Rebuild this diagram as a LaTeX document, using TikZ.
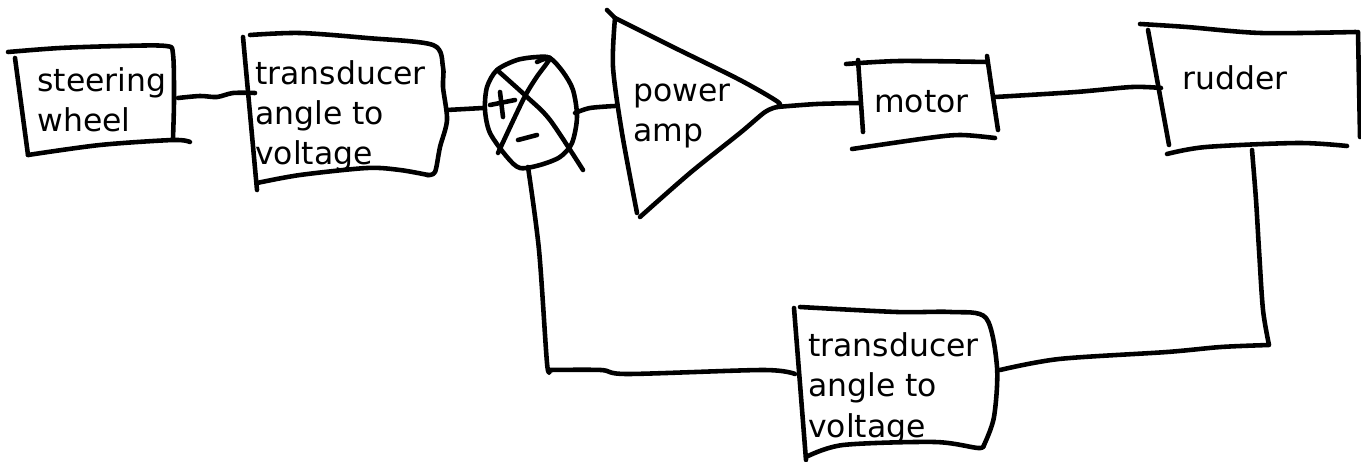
\documentclass[tikz,border=0pt]{standalone}
\usepackage{fontspec}
\setmainfont{DejaVu Sans}
\usetikzlibrary{positioning}

\begin{document}
\begin{tikzpicture}[x=0.02cm, y=-0.02cm,
    ink/.style={line width=2.6pt, line cap=round, line join=round},
    lbl/.style={font=\fontsize{17.9}{22.8}\selectfont, align=left, inner sep=0pt, anchor=base west}]
    \useasboundingbox (0,0) rectangle (1361,462);
    % Labels (anchored at the baseline of the last line)
    \node[lbl] (sw) at (37,132) {steering\\wheel};
    \node[lbl] (tra) at (255,165) {transducer\\angle to\\voltage};
    \node[lbl] (amp) at (633,142) {power\\amp};
    \node[lbl] (mot) at (874,113) {motor};
    \node[lbl] (rud) at (1182,90) {rudder};
    \node[lbl] (trb) at (808,437) {transducer\\angle to\\voltage};
    % Ports
    \coordinate (sw-out) at (178,98);
    \coordinate (tra-in) at (255,93);
    \coordinate (tra-out) at (447,110);
    \coordinate (sum-w) at (483,108);
    \coordinate (sum-e) at (575,113);
    \coordinate (sum-s) at (528,167);
    \coordinate (amp-in) at (615,106);
    \coordinate (amp-out) at (777,107);
    \coordinate (mot-in) at (860,103);
    \coordinate (mot-out) at (995,97);
    \coordinate (rud-in) at (1161,88);
    \coordinate (rud-s) at (1252,150);
    \coordinate (trb-e) at (1000,370);
    \coordinate (trb-w) at (795,374);
    \coordinate (fb-r) at (1269,345);
    \coordinate (fb-l) at (550,370);
    % Steering wheel box
    \draw[ink] plot[smooth] coordinates {(8,52) (60,48) (120,46) (166,46) (173,54) (174,100) (173,138)};
    \draw[ink] (15,58) -- (28,155);
    \draw[ink] plot[smooth] coordinates {(28,155) (100,145) (173,140) (190,142)};
    % Transducer box (forward)
    \draw[ink] (243,37) -- (257,190);
    \draw[ink] plot[smooth] coordinates {(250,35) (300,33) (367,38) (433,45) (443,67) (443,87) (447,120) (440,147) (435,172) (427,175)};
    \draw[ink] plot[smooth] coordinates {(257,183) (300,175) (367,168) (400,170) (428,175)};
    % Summing junction
    \draw[ink] plot[smooth cycle] coordinates {(487,87) (497,70) (517,60) (537,57) (550,58) (563,72) (573,90) (577,117) (572,143) (560,157) (540,165) (520,168) (507,157) (490,133) (485,110)};
    \draw[ink] plot[smooth] coordinates {(497,70) (527,97) (550,120) (583,170)};
    \draw[ink] plot[smooth] coordinates {(537,62) (550,58) (536,78) (523,100) (498,153)};
    \draw[ink] (490,105) -- (515,100);
    \draw[ink] (500,92) -- (503,117);
    \draw[ink] (518,140) -- (537,135);
    % Power amp
    \draw[ink] (607,10) -- (615,18);
    \draw[ink] plot[smooth] coordinates {(615,18) (613,67) (622,133) (637,213)};
    \draw[ink] plot[smooth] coordinates {(615,18) (673,47) (740,80) (778,102) (777,107)};
    \draw[ink] plot[smooth] coordinates {(640,217) (690,173) (740,133) (765,112) (777,107)};
    % Motor box
    \draw[ink] (858,60) -- (863,132);
    \draw[ink] plot[smooth] coordinates {(846,64) (900,61) (987,62)};
    \draw[ink] plot[smooth] coordinates {(987,56) (993,97) (998,130)};
    \draw[ink] plot[smooth] coordinates {(852,149) (928,138) (961,135) (995,138)};
    % Rudder box
    \draw[ink] (1148,30) -- (1169,145);
    \draw[ink] plot[smooth] coordinates {(1140,24) (1187,27) (1261,33) (1356,32)};
    \draw[ink] (1358,32) -- (1360,137);
    \draw[ink] plot[smooth] coordinates {(1167,154) (1206,147) (1298,143) (1347,146)};
    % Transducer box (feedback)
    \draw[ink] (794,308) -- (806,460);
    \draw[ink] plot[smooth] coordinates {(800,307) (897,312) (951,312) (986,318) (997,367) (994,417) (984,445)};
    \draw[ink] plot[smooth] coordinates {(806,457) (843,445) (935,442) (978,448) (984,445)};
    % Connectors
    \draw[ink] plot[smooth] coordinates {(sw-out) (200,96) (217,97) (233,93) (tra-in)};
    \draw[ink] (tra-out) -- (sum-w);
    \draw[ink] plot[smooth] coordinates {(sum-e) (590,108) (amp-in)};
    \draw[ink] plot[smooth] coordinates {(amp-out) (817,104) (mot-in)};
    \draw[ink] plot[smooth] coordinates {(mot-out) (1076,92) (1132,87) (rud-in)};
    \draw[ink] plot[smooth] coordinates {(rud-s) (1256,200) (1259,250) (1263,310) (fb-r)}
        -- plot[smooth] coordinates {(fb-r) (1221,347) (1167,352) (1059,359) (trb-e)};
    \draw[ink] plot[smooth] coordinates {(trb-w) (763,370) (628,374) (601,370) (fb-l)}
        -- plot[smooth] coordinates {(fb-l) (547,363) (539,250) (sum-s)};
\end{tikzpicture}
\end{document}
